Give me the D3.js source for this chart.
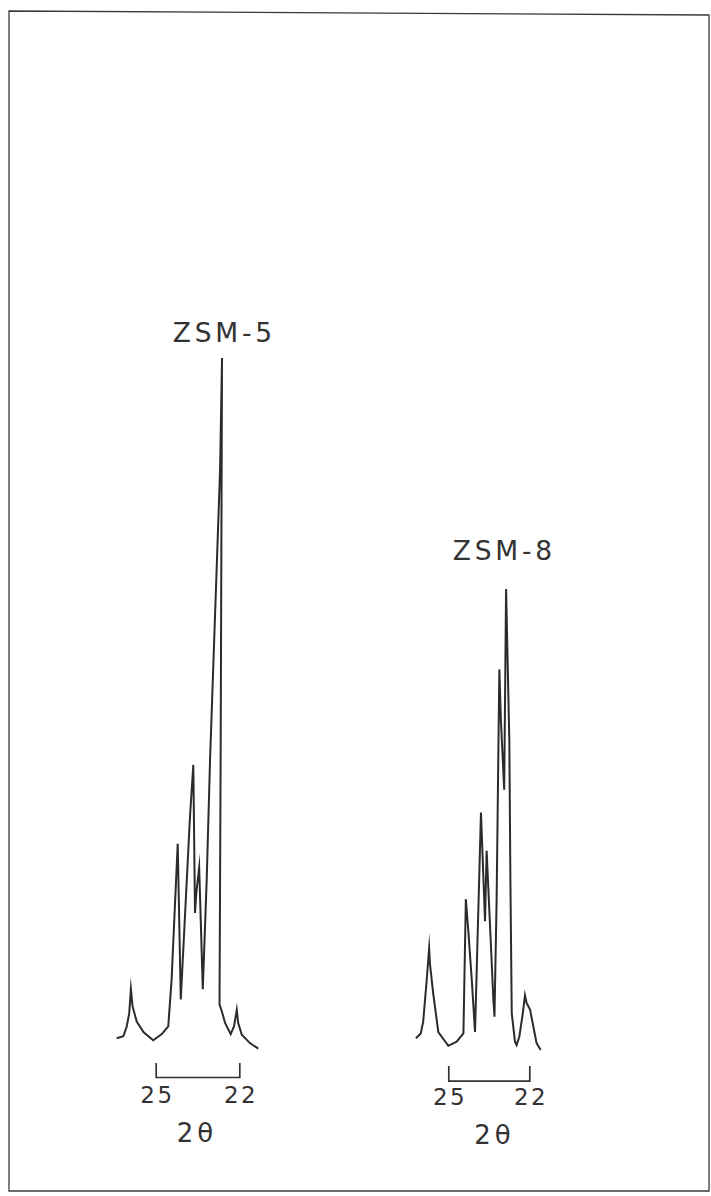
<!DOCTYPE html>
<html>
<head>
<meta charset="utf-8">
<script src="https://cdn.jsdelivr.net/npm/d3@7"></script>
<style>
  body { margin: 0; background: #fff; }
  svg { display: block; }
  .lbl { font-family: "DejaVu Sans", sans-serif; fill: #333; }
</style>
</head>
<body>
<div id="graph"></div>
<script>
// 2-theta (deg) and relative intensity
const zsm5Theta = [26.40, 26.16, 26.04, 25.95, 25.89, 25.83, 25.68, 25.44, 25.09, 24.78,
  24.55, 24.43, 24.21, 24.10, 23.77, 23.65, 23.59, 23.54, 23.44, 23.31,
  23.17, 23.05, 22.69, 22.62, 22.67, 22.71, 22.62, 22.51, 22.31, 22.19,
  22.09, 22.04, 21.91, 21.62, 21.32];
const zsm5Counts = [1.7, 2.0, 3.4, 5.3, 8.8, 6.3, 4.1, 2.6, 1.4, 2.3,
  3.4, 10.1, 29.8, 7.3, 33.7, 41.2, 19.8, 22.8, 26.4, 8.8,
  24.6, 41.9, 83.8, 100, 41.9, 6.6, 5.5, 3.9, 2.3, 3.4,
  5.8, 3.9, 2.2, 1.0, 0.2];

const zsm8Theta = [26.20, 26.02, 25.93, 25.80, 25.71, 25.68, 25.56, 25.37, 25.00, 24.69,
  24.44, 24.35, 24.26, 24.13, 24.01, 23.79, 23.64, 23.58, 23.33, 23.29,
  23.21, 23.11, 23.05, 22.93, 22.86, 22.74, 22.70, 22.65, 22.53, 22.47,
  22.37, 22.24, 22.16, 22.10, 21.97, 21.85, 21.73, 21.58];
const zsm8Counts = [1.7, 2.4, 4.1, 10.1, 14.7, 12.5, 8.2, 2.6, 0.6, 1.2,
  2.4, 21.8, 17.3, 10.1, 2.6, 34.3, 18.6, 28.8, 7.2, 4.8,
  21.7, 55.0, 47.5, 37.6, 66.6, 44.8, 24.6, 5.3, 1.2, 0.7,
  1.9, 5.3, 7.9, 6.8, 5.8, 3.4, 1.0, 0.0];

const tickLabels = [25, 22];
const panelNames = ["ZSM-5", "ZSM-8"];
const axisTitle = "2\u03B8";

const w = 711;
const h = 1196;

// page layout for each trace
const layout = [
  { range: [155.7, 239.3], axisY: 1077, bracket: 14, pad: 9.7, titleX: 222.5, titleY: 342, labelX: 195, labelY: 1142 },
  { range: [448.3, 529.3], axisY: 1080.7, bracket: 14.7, pad: 8, titleX: 502.5, titleY: 559.5, labelX: 492.5, labelY: 1144 }
];
const traces = [
  zsm5Theta.map((t, i) => [t, zsm5Counts[i]]),
  zsm8Theta.map((t, i) => [t, zsm8Counts[i]])
];

const yScale = d3.scaleLinear()
  .domain([0, 100])
  .range([1050, 358]);

const svg = d3.select("#graph")
  .append("svg")
  .attr("width", w)
  .attr("height", h);

// frame of the scanned figure
svg.append("path")
  .attr("d", "M9,11 L709,15 L709,1191 L9,1191 Z")
  .attr("fill", "none")
  .attr("stroke", "#3a3a3a")
  .attr("stroke-width", 1.3);

layout.forEach((p, k) => {
  const xScale = d3.scaleLinear()
    .domain([25, 22])
    .range(p.range);

  const line = d3.line()
    .x((d) => xScale(d[0]))
    .y((d) => yScale(d[1]));

  svg.append("path")
    .datum(traces[k])
    .attr("class", "trace")
    .attr("d", line)
    .attr("fill", "none")
    .attr("stroke", "#2b2b2b")
    .attr("stroke-width", 2)
    .attr("stroke-linejoin", "miter")
    .attr("stroke-miterlimit", 20);

  const xAxis = d3.axisBottom(xScale)
    .tickValues(tickLabels)
    .tickFormat(d3.format("d"))
    .tickSizeInner(0)
    .tickSizeOuter(-p.bracket)
    .tickPadding(p.pad);

  const g = svg.append("g")
    .attr("class", "x-axis")
    .attr("transform", `translate(0, ${p.axisY})`)
    .call(xAxis);

  g.select(".domain")
    .attr("stroke", "#333")
    .attr("stroke-width", 1.7);
  g.selectAll(".tick line").remove();
  g.selectAll(".tick text")
    .attr("class", "lbl")
    .attr("font-size", 23)
    .attr("letter-spacing", 2.5)
    .attr("dx", 1.25);

  svg.append("text")
    .attr("class", "lbl")
    .attr("x", p.labelX)
    .attr("y", p.labelY)
    .attr("text-anchor", "middle")
    .attr("font-size", 26)
    .attr("letter-spacing", 4)
    .attr("dx", 2)
    .text(axisTitle);

  svg.append("text")
    .attr("class", "lbl")
    .attr("x", p.titleX)
    .attr("y", p.titleY)
    .attr("text-anchor", "middle")
    .attr("font-size", 26.5)
    .attr("letter-spacing", 3.8)
    .attr("dx", 1.9)
    .text(panelNames[k]);
});
</script>
</body>
</html>
